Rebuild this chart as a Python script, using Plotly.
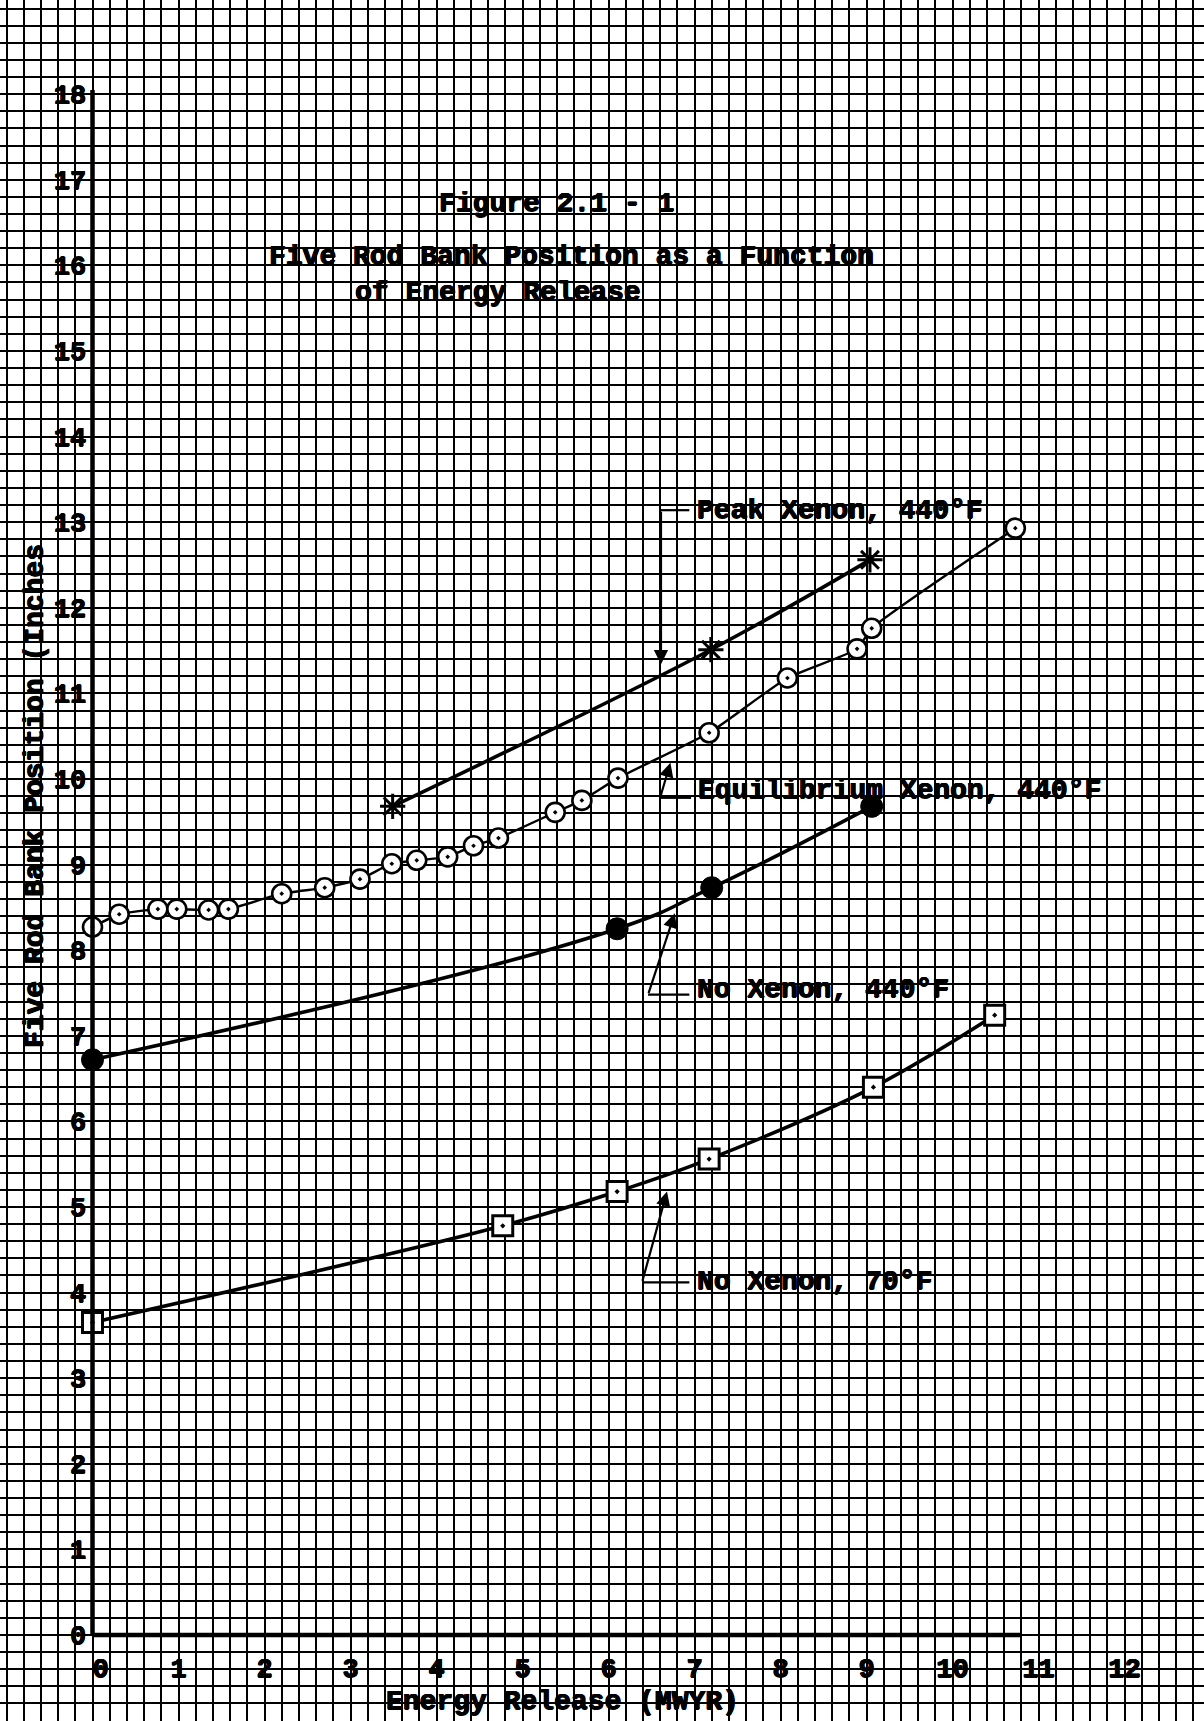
import plotly.graph_objects as go

# ---- data: five rod bank position (inches) vs. energy release (MWYR) ----
# Equilibrium xenon, 440 F
eq_x = [0.0, 0.31, 0.76, 0.98, 1.35, 1.58, 2.20, 2.70, 3.11, 3.48, 3.77,
        4.13, 4.43, 4.72, 5.38, 5.69, 6.11, 7.17, 8.08, 8.89, 9.06, 10.73]
eq_y = [8.27, 8.42, 8.48, 8.48, 8.47, 8.48, 8.66, 8.73, 8.83, 9.01, 9.05,
        9.09, 9.22, 9.31, 9.61, 9.75, 10.01, 10.54, 11.18, 11.52, 11.76, 12.93]

# Peak xenon, 440 F
peak_x = [3.49, 7.19, 9.04]
peak_y = [9.68, 11.51, 12.56]

# No xenon, 440 F
nox440_x = [0.0, 6.10, 7.20, 9.06]
nox440_y = [6.72, 8.25, 8.73, 9.68]

# No xenon, 70 F
nox70_x = [0.0, 4.77, 6.10, 7.17, 9.08, 10.49]
nox70_y = [3.65, 4.78, 5.18, 5.56, 6.40, 7.24]

x_ticks = list(range(0, 13))
x_tick_labels = ["\u00a00"] + [str(v) for v in range(1, 13)]
y_ticks = list(range(0, 19))
y_tick_labels = [str(v) for v in y_ticks]

# ---- page geometry: the graph paper fills the whole sheet ----
W, H = 1204, 1721
X_RANGE = [-1.0756, 12.924]
Y_RANGE = [-1.0047, 19.100]
x_axis_pos = (0 - Y_RANGE[0]) / (Y_RANGE[1] - Y_RANGE[0])
y_axis_pos = (0 - X_RANGE[0]) / (X_RANGE[1] - X_RANGE[0])

MONO = "Liberation Mono, Courier New, monospace"
# heavy typewriter strokes: thicken the glyphs with a tight black shadow
INK = ("0.7px 0px 0px black, -0.5px 0px 0px black, "
       "0px 0.6px 0px black, 0px -0.4px 0px black")
typed = dict(family=MONO, size=28, color="black", weight="bold", shadow=INK)
tickfont = dict(family=MONO, size=27, color="black", weight="bold", shadow=INK)

fig = go.Figure()

fig.add_trace(go.Scatter(
    x=peak_x, y=peak_y, mode="lines+markers", name="Peak Xenon, 440°F",
    line=dict(color="black", width=3.6, shape="spline", smoothing=1.0),
    marker=dict(symbol="asterisk-open", size=21,
                line=dict(color="black", width=3)),
))
fig.add_trace(go.Scatter(
    x=eq_x, y=eq_y, mode="lines+markers", name="Equilibrium Xenon, 440°F",
    line=dict(color="black", width=2.4, shape="spline", smoothing=0.5),
    marker=dict(symbol="circle-dot", size=19, color="white",
                line=dict(color="black", width=2.6)),
))
fig.add_trace(go.Scatter(
    x=nox440_x, y=nox440_y, mode="lines+markers", name="No Xenon, 440°F",
    line=dict(color="black", width=3.6, shape="spline", smoothing=1.3),
    marker=dict(symbol="circle", size=22, color="black",
                line=dict(color="black", width=1)),
))
fig.add_trace(go.Scatter(
    x=nox70_x, y=nox70_y, mode="lines+markers", name="No Xenon, 70°F",
    line=dict(color="black", width=3.6, shape="spline", smoothing=1.0),
    marker=dict(symbol="square-dot", size=20, color="white",
                line=dict(color="black", width=3)),
))

# heavy axis lines drawn over the printed grid
axis_line = dict(color="black", width=4.5)
fig.add_shape(type="line", x0=0, y0=0, x1=0, y1=18.05, xref="x", yref="y",
              line=axis_line)
fig.add_shape(type="line", x0=0, y0=0, x1=10.8, y1=0, xref="x", yref="y",
              line=axis_line)

# curve labels with bent leader arrows
leaders = [
    # text, text x, text y, corner x, corner y, tip x, tip y
    ("Peak Xenon, 440°F", 7.00, 13.14, 6.61, 13.14, 6.61, 11.34),
    ("Equilibrium Xenon, 440°F", 7.02, 9.87, 6.60, 9.78, 6.72, 10.19),
    ("No Xenon, 440°F", 7.00, 7.54, 6.46, 7.48, 6.77, 8.43),
    ("No Xenon, 70°F", 7.00, 4.13, 6.39, 4.12, 6.68, 5.18),
]
for text, tx, ty, cx, cy, px, py in leaders:
    fig.add_shape(type="line", x0=cx, y0=cy, x1=tx - 0.06, y1=cy,
                  xref="x", yref="y", line=dict(color="black", width=2.2))
    fig.add_annotation(x=px, y=py, ax=cx, ay=cy, xref="x", yref="y",
                       axref="x", ayref="y", text="", showarrow=True,
                       arrowhead=2, arrowsize=1.3, arrowwidth=2.2,
                       arrowcolor="black", standoff=0)
    fig.add_annotation(x=tx, y=ty, xref="x", yref="y", text=text,
                       showarrow=False, xanchor="left", yanchor="middle",
                       font=typed)

# title block
for text, tx, ty in [
    ("Figure 2.1 - 1", 4.01, 16.72),
    ("Five Rod Bank Position as a Function", 2.03, 16.10),
    ("of Energy Release", 3.03, 15.68),
]:
    fig.add_annotation(x=tx, y=ty, xref="x", yref="y", text=text,
                       showarrow=False, xanchor="left", yanchor="middle",
                       font=typed)

# axis titles
fig.add_annotation(x=-0.669, y=9.80, xref="x", yref="y",
                   text="Five Rod Bank Position (Inches", textangle=-90,
                   showarrow=False, xanchor="center", yanchor="middle",
                   font=typed)
fig.add_annotation(x=3.39, y=0, xref="x", yref="paper",
                   text="Energy Release (MWYR)", showarrow=False,
                   xanchor="left", yanchor="bottom", yshift=2, font=typed)

fig.update_layout(
    width=W, height=H,
    margin=dict(l=0, r=0, t=0, b=0),
    paper_bgcolor="white", plot_bgcolor="white",
    showlegend=False,
    xaxis=dict(
        range=X_RANGE, anchor="free", position=x_axis_pos,
        tickvals=x_ticks, ticktext=x_tick_labels, tickfont=tickfont,
        ticks="outside", ticklen=9, tickcolor="rgba(0,0,0,0)",
        showgrid=True, gridcolor="black", gridwidth=1.9,
        minor=dict(tick0=0, dtick=0.2, showgrid=True,
                   gridcolor="black", gridwidth=1.5),
        showline=False, zeroline=False, fixedrange=True,
    ),
    yaxis=dict(
        range=Y_RANGE, anchor="free", position=y_axis_pos,
        tickvals=y_ticks, ticktext=y_tick_labels, tickfont=tickfont,
        ticks="outside", ticklen=1, tickcolor="rgba(0,0,0,0)",
        showgrid=True, gridcolor="black", gridwidth=1.9,
        minor=dict(tick0=0, dtick=0.2, showgrid=True,
                   gridcolor="black", gridwidth=1.5),
        showline=False, zeroline=False, fixedrange=True,
    ),
)

fig.write_html("out.html")
